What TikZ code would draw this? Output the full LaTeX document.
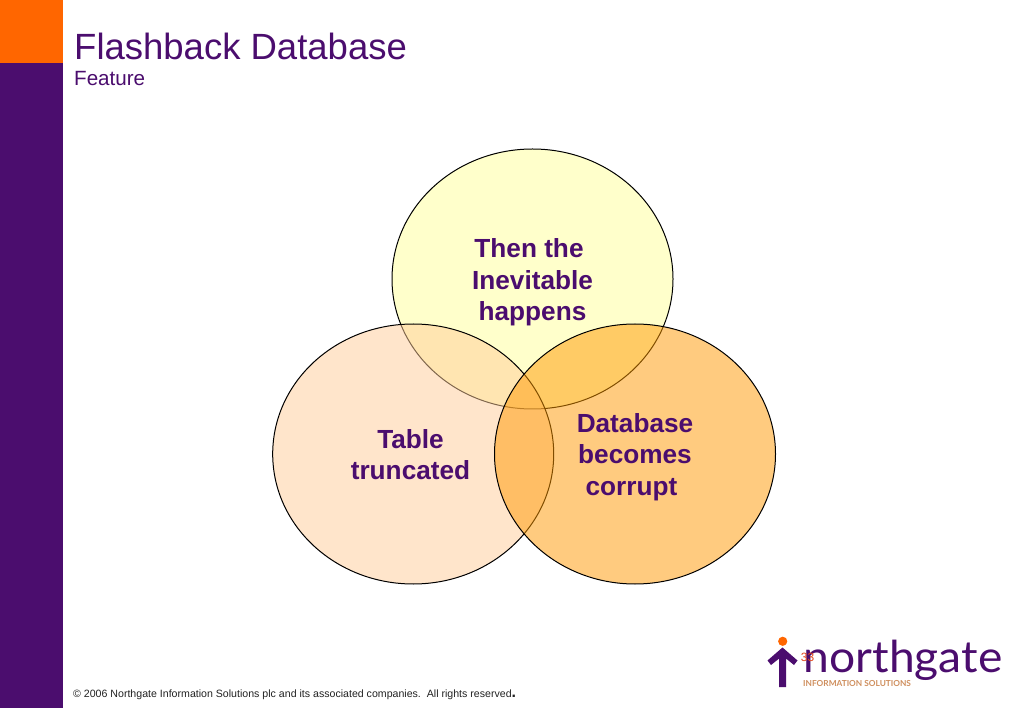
\documentclass[tikz,border=0pt]{standalone}
\usepackage{fontspec}
\setmainfont{Liberation Sans}
\newfontfamily\logofont{Lato}
\usetikzlibrary{shapes.geometric}
\definecolor{brandpurple}{HTML}{4B0D6E}
\definecolor{brandorange}{HTML}{FF6600}
\definecolor{logotag}{HTML}{CF8F5E}
\definecolor{pagenum}{HTML}{E2471C}
\definecolor{foot}{HTML}{222222}
\definecolor{vennA}{HTML}{FFFF99}
\definecolor{vennB}{HTML}{FFCC99}
\definecolor{vennC}{HTML}{FF9900}
\tikzset{
  venn/.style={ellipse, draw=black, line width=1pt, minimum width=281pt, minimum height=260pt, inner sep=0pt, fill opacity=0.5},
  venntext/.style={text=brandpurple, font=\fontsize{26.2}{31.4}\selectfont\bfseries, align=center, inner sep=0pt}
}
\begin{document}
\begin{tikzpicture}[x=1pt,y=-1pt]
\useasboundingbox (0,0) rectangle (1023,708);
\fill[white] (0,0) rectangle (1023,708);
\fill[brandorange] (0,0) rectangle (63,63);
\fill[brandpurple] (0,63) rectangle (63,708);
\node[anchor=base west, inner sep=0pt, text=brandpurple, font=\fontsize{36.5}{40}\selectfont] (title) at (74,60) {Flashback Database};
\node[anchor=base west, inner sep=0pt, text=brandpurple, font=\fontsize{20.6}{24}\selectfont] (subtitle) at (74,86) {Feature};
\node[venn, fill=vennA] (top) at (532.5,279) {};
\node[venn, fill=vennB] (left) at (413.2,454) {};
\node[venn, fill=vennC] (right) at (635,454) {};
\node[venntext] (toptext) at (532.5,282.5) {Then the\kern7pt\\Inevitable\\happens};
\node[venntext] (lefttext) at (410.5,454.5) {Table\\truncated};
\node[venntext] (righttext) at (635,457) {Database\\becomes\\corrupt\kern7pt};
\node[anchor=base west, inner sep=0pt, text=foot, font=\fontsize{10.6}{12}\selectfont] (footer) at (73,697) {© 2006 Northgate Information Solutions plc and its associated companies.~~All rights reserved\textbf{\fontsize{16}{16}\selectfont .}};
% logo
\fill[brandorange] (782.7,641.3) circle (4.6);
\fill[brandpurple] (782.5,647.5) -- (797.5,660.5) -- (794,665) -- (786,658.5) -- (786,687) -- (779.2,687) -- (779.2,658.5) -- (771,665) -- (767.5,660.5) -- cycle;
\node[anchor=base west, inner sep=0pt, text=brandpurple, font=\logofont\fontsize{44}{44}\selectfont] (logo) at (803.5,672.7) {\scalebox{1.05}[1]{northgate}};
\node[anchor=base west, inner sep=0pt, text=logotag, font=\logofont\bfseries\fontsize{8.3}{9}\selectfont] (tag) at (803,686.5) {INFORMATION SOLUTIONS};
\node[anchor=center, inner sep=0pt, text=pagenum, font=\fontsize{12}{12}\selectfont] (page) at (807.5,657.5) {33};
\end{tikzpicture}
\end{document}
